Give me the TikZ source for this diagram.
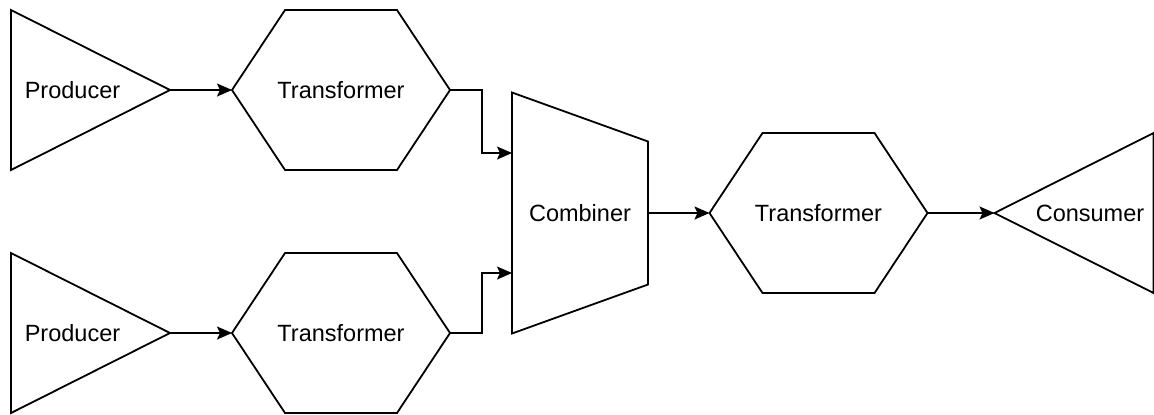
\documentclass[tikz,border=0pt]{standalone}
\usepackage{fontspec}
\setmainfont{Liberation Sans}
\usetikzlibrary{arrows.meta}
\begin{document}
\begin{tikzpicture}[
    x=0.5pt, y=-0.5pt,
    line width=0.9pt,
    every node/.style={inner sep=0pt, outer sep=0pt, font=\fontsize{11.75}{14}\selectfont},
    tri/.style={minimum width=79.5pt, minimum height=80pt},
    hexa/.style={minimum width=109pt, minimum height=80pt},
    comb/.style={minimum width=68pt, minimum height=120.5pt},
    flow/.style={-{Stealth[length=7.5pt,width=6.5pt,inset=1.5pt]}}]
  \useasboundingbox (0,0) rectangle (1154,414);

  \node[tri, label={[xshift=-9pt]center:Producer}] (p1) at (90.5,90) {};
  \node[tri, label={[xshift=-9pt]center:Producer}] (p2) at (90.5,333) {};
  \node[hexa] (t1) at (341,90) {Transformer};
  \node[hexa] (t2) at (341,333) {Transformer};
  \node[comb] (c) at (580,213) {Combiner};
  \node[hexa] (t3) at (818.5,213) {Transformer};
  \node[tri, label={[xshift=8pt]center:Consumer}] (k) at (1074,213) {};

  % outlines
  \foreach \p in {p1,p2}
    \draw (\p.north west) -- (\p.east) -- (\p.south west) -- cycle;
  \foreach \t in {t1,t2,t3}
    \draw (\t.west) -- ([xshift=26.5pt]\t.north west) -- ([xshift=-26.5pt]\t.north east)
      -- (\t.east) -- ([xshift=-26.5pt]\t.south east) -- ([xshift=26.5pt]\t.south west) -- cycle;
  \draw (c.north west) -- ([yshift=-24.5pt]c.north east) -- ([yshift=24.5pt]c.south east)
    -- (c.south west) -- cycle;
  \draw (k.west) -- (k.north east) -- (k.south east) -- cycle;

  % connectors
  \draw[flow] (p1.east) -- (t1.west);
  \draw[flow] (p2.east) -- (t2.west);
  \draw[flow] (t1.east) -- ++(32,0) |- ([yshift=30pt]c.west);
  \draw[flow] (t2.east) -- ++(32,0) |- ([yshift=-30pt]c.west);
  \draw[flow] (c.east) -- (t3.west);
  \draw[flow] (t3.east) -- (k.west);
\end{tikzpicture}
\end{document}
